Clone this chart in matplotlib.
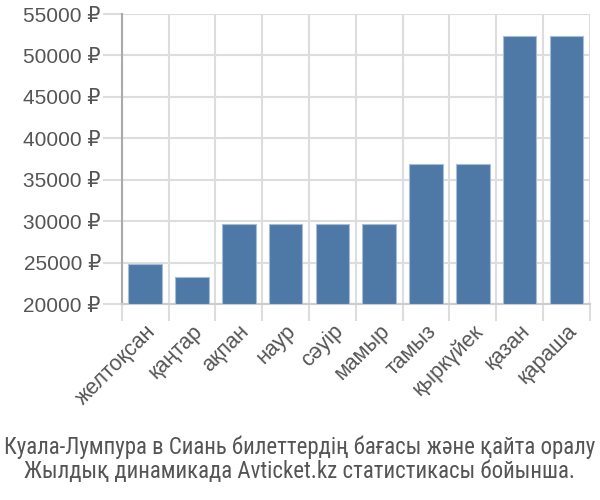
import matplotlib
matplotlib.use('Agg')
import matplotlib.pyplot as plt
import numpy as np

months = ['желтоқсан', 'қаңтар', 'ақпан', 'наур', 'сәуір', 'мамыр',
          'тамыз', 'қыркүйек', 'қазан', 'қараша']
prices = [24800, 23200, 29600, 29600, 29600, 29600, 36900, 36900, 52300, 52300]
yticks = [20000, 25000, 30000, 35000, 40000, 45000, 50000, 55000]
caption = ['Куала-Лумпура в Сиань билеттердің бағасы және қайта оралу',
           'Жылдық динамикада Avticket.kz статистикасы бойынша.']

plt.rcParams['font.family'] = ['Liberation Sans', 'DejaVu Sans']

fig = plt.figure(figsize=(6, 5), dpi=100)
ax = fig.add_axes([0.203, 0.392, 0.78, 0.58])

x = np.arange(len(months))
ax.bar(x, [p - 20000 for p in prices], bottom=20000, width=0.72,
       color='#4e79a7', edgecolor='#a9bcd6', linewidth=0.8, zorder=3)

ax.set_xlim(-0.5, len(months) - 0.5)
ax.set_ylim(20000, 55000)
ax.set_yticks(yticks)
ax.set_yticklabels(['{} ₽'.format(v) for v in yticks])
ax.set_xticks(x)
ax.set_xticklabels(months, rotation=45, ha='right', va='top',
                   rotation_mode='anchor')
ax.set_xticks(np.arange(len(months) + 1) - 0.5, minor=True)

ax.tick_params(axis='y', length=14, color='#dddddd', width=1.5, labelsize=15,
               labelcolor='#555555', pad=1)
ax.tick_params(axis='x', which='major', length=0, labelsize=15.5,
               labelcolor='#555555', pad=12)
ax.tick_params(axis='x', which='minor', length=12, color='#dddddd', width=1.5)

ax.grid(axis='y', color='#dddddd', linewidth=1.5, zorder=0)
ax.grid(axis='x', which='minor', color='#dddddd', linewidth=1.5, zorder=0)

for s in ['top', 'right']:
    ax.spines[s].set_visible(False)
ax.spines['left'].set_color('#aaaaaa')
ax.spines['left'].set_linewidth(1.5)
ax.spines['bottom'].set_color('#cccccc')
ax.spines['bottom'].set_linewidth(1.5)

for i, line in enumerate(caption):
    fig.text(0.5, 0.106 - i * 0.05, line, ha='center', va='center', fontsize=16.5,
             color='#555555', family=['Roboto Condensed', 'DejaVu Sans'])

fig.savefig('out.png', dpi=100)
